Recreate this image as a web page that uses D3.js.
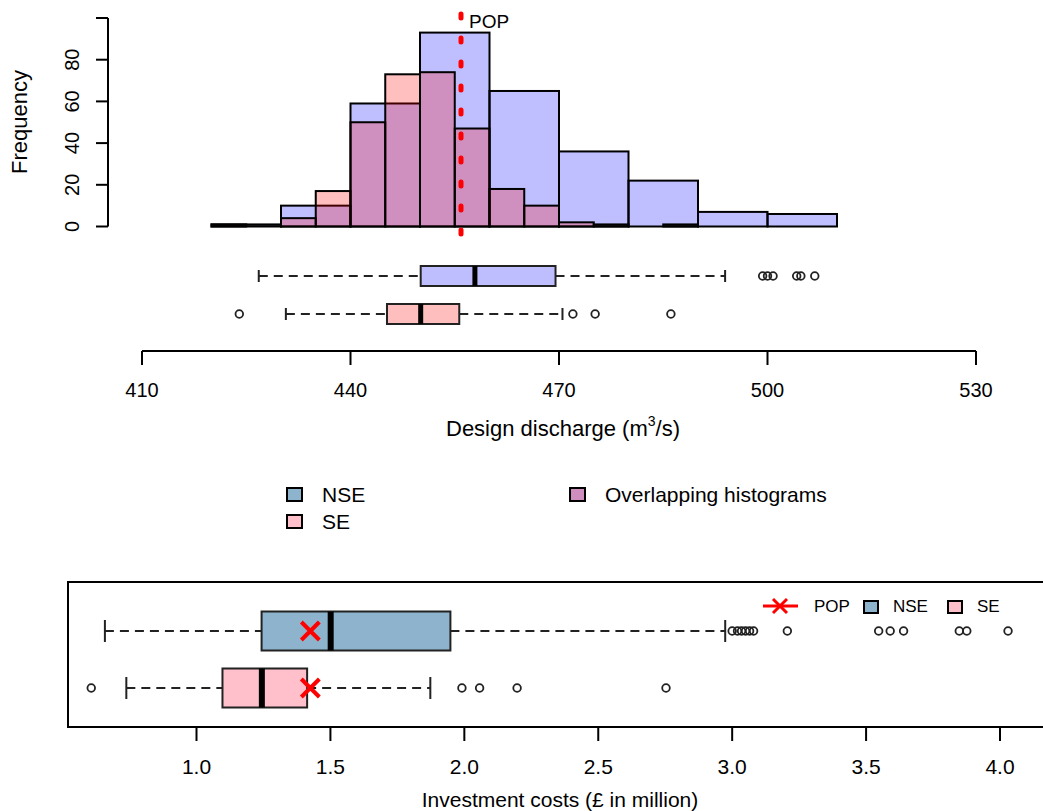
<!DOCTYPE html>
<html>
<head>
<meta charset="utf-8">
<script src="https://cdn.jsdelivr.net/npm/d3@7"></script>
<style>
body { margin: 0; background: #fff; }
text { font-family: "Liberation Sans", Arial, sans-serif; fill: #000; }
</style>
</head>
<body>
<div id="chart"></div>
<script>
// histogram data (design discharge, m3/s)
var nseBreaks = [420, 430, 440, 450, 460, 470, 480, 490, 500, 510];
var nseCounts = [1, 10, 59, 93, 65, 36, 22, 7, 6];
var seBreaks = [420, 425, 430, 435, 440, 445, 450, 455, 460, 465, 470, 475, 480, 485, 490];
var seCounts = [1, 0, 4, 17, 50, 73, 74, 47, 18, 10, 2, 1, 0, 1];
var popDischarge = 455.9;

// boxplot stats: [lower whisker, q1, median, q3, upper whisker]
var nseDischargeStats = [426.8, 450.1, 457.9, 469.5, 493.9];
var nseDischargeOut = [499.3, 500.0, 500.8, 504.2, 504.8, 506.8];
var seDischargeStats = [430.7, 445.25, 450.1, 455.65, 470.5];
var seDischargeOut = [424.0, 472.0, 475.2, 486.1];

var nseCostStats = [0.658, 1.243, 1.501, 1.948, 2.974];
var nseCostOut = [3.0, 3.02, 3.035, 3.05, 3.065, 3.08, 3.206, 3.547, 3.59, 3.64, 3.848, 3.876, 4.03];
var seCostStats = [0.738, 1.097, 1.244, 1.413, 1.873];
var seCostOut = [0.607, 1.991, 2.057, 2.197, 2.753];
var popCost = [1.425, 1.425];

var dischargeTicks = [410, 440, 470, 500, 530];
var freqTicks = [0, 20, 40, 60, 80, 100];
var freqLabels = ["0", "20", "40", "60", "80", ""];
var costTicks = [1.0, 1.5, 2.0, 2.5, 3.0, 3.5, 4.0];

var width = 1043, height = 811;
var svg = d3.select("#chart").append("svg")
    .attr("width", width)
    .attr("height", height);

var x = d3.scaleLinear().domain([410, 530]).range([142, 976]);
var y = d3.scaleLinear().domain([0, 100]).range([226.5, 18]);
var xc = d3.scaleLinear().domain([1.0, 4.0]).range([196.5, 1000]);

// ---- histograms ----
function histBars(breaks, counts) {
    return counts.map(function (c, i) { return {x0: breaks[i], x1: breaks[i + 1], n: c}; });
}
var hist = svg.append("g").attr("class", "hist");
hist.selectAll("rect.nse")
    .data(histBars(nseBreaks, nseCounts)).enter()
    .append("rect").attr("class", "nse")
    .attr("x", function (d) { return x(d.x0); })
    .attr("width", function (d) { return x(d.x1) - x(d.x0); })
    .attr("y", function (d) { return y(d.n); })
    .attr("height", function (d) { return y(0) - y(d.n); })
    .attr("fill", "rgba(0,0,255,0.25)")
    .attr("stroke", "#000").attr("stroke-width", 2);
hist.selectAll("rect.se")
    .data(histBars(seBreaks, seCounts).filter(function (d) { return d.n > 0; })).enter()
    .append("rect").attr("class", "se")
    .attr("x", function (d) { return x(d.x0); })
    .attr("width", function (d) { return x(d.x1) - x(d.x0); })
    .attr("y", function (d) { return y(d.n); })
    .attr("height", function (d) { return y(0) - y(d.n); })
    .attr("fill", "rgba(255,0,0,0.25)")
    .attr("stroke", "#000").attr("stroke-width", 2);

// y axis
var yAxis = svg.append("g").attr("transform", "translate(108,0)");
yAxis.append("line").attr("x1", 0).attr("x2", 0)
    .attr("y1", y(0)).attr("y2", y(100))
    .attr("stroke", "#000").attr("stroke-width", 2);
yAxis.selectAll("line.tick").data(freqTicks).enter()
    .append("line").attr("class", "tick")
    .attr("x1", -12).attr("x2", 0)
    .attr("y1", function (d) { return y(d); }).attr("y2", function (d) { return y(d); })
    .attr("stroke", "#000").attr("stroke-width", 2);
yAxis.selectAll("text").data(freqTicks).enter()
    .append("text")
    .attr("transform", function (d) { return "translate(-29," + y(d) + ") rotate(-90)"; })
    .attr("text-anchor", "middle")
    .style("font-size", "20px")
    .text(function (d, i) { return freqLabels[i]; });
svg.append("text")
    .attr("transform", "translate(27,122) rotate(-90)")
    .attr("text-anchor", "middle")
    .style("font-size", "22px")
    .text("Frequency");

// POP line
svg.append("line")
    .attr("x1", x(popDischarge)).attr("x2", x(popDischarge))
    .attr("y1", 14).attr("y2", 238)
    .attr("stroke", "#f00").attr("stroke-width", 5)
    .attr("stroke-linecap", "round")
    .attr("stroke-dasharray", "4,20");
svg.append("text")
    .attr("x", x(popDischarge) + 8).attr("y", 28)
    .style("font-size", "19px")
    .text("POP");

// ---- box plots ----
function drawBox(g, sc, stats, outs, cy, half, staple, fill, medW) {
    var dash = "9,6";
    g.append("line").attr("x1", sc(stats[0])).attr("x2", sc(stats[1]))
        .attr("y1", cy).attr("y2", cy)
        .attr("stroke", "#222").attr("stroke-width", 2).attr("stroke-dasharray", dash);
    g.append("line").attr("x1", sc(stats[3])).attr("x2", sc(stats[4]))
        .attr("y1", cy).attr("y2", cy)
        .attr("stroke", "#222").attr("stroke-width", 2).attr("stroke-dasharray", dash);
    g.selectAll("line.staple").data([stats[0], stats[4]]).enter()
        .append("line").attr("class", "staple")
        .attr("x1", function (d) { return sc(d); }).attr("x2", function (d) { return sc(d); })
        .attr("y1", cy - staple).attr("y2", cy + staple)
        .attr("stroke", "#222").attr("stroke-width", 2);
    g.append("rect")
        .attr("x", sc(stats[1])).attr("width", sc(stats[3]) - sc(stats[1]))
        .attr("y", cy - half).attr("height", 2 * half)
        .attr("fill", fill).attr("stroke", "#222").attr("stroke-width", 2);
    g.append("line").attr("x1", sc(stats[2])).attr("x2", sc(stats[2]))
        .attr("y1", cy - half).attr("y2", cy + half)
        .attr("stroke", "#000").attr("stroke-width", medW);
    g.selectAll("circle").data(outs).enter()
        .append("circle")
        .attr("cx", function (d) { return sc(d); }).attr("cy", cy)
        .attr("r", 3.8)
        .attr("fill", "none").attr("stroke", "#222").attr("stroke-width", 1.8);
}

var topBoxes = svg.append("g");
drawBox(topBoxes.append("g"), x, nseDischargeStats, nseDischargeOut, 276, 10, 6, "#bebeff", 5);
drawBox(topBoxes.append("g"), x, seDischargeStats, seDischargeOut, 314, 10, 6, "#ffbebe", 5);

// discharge axis
var xAxis = svg.append("g").attr("transform", "translate(0,351)");
xAxis.append("line").attr("x1", x(410)).attr("x2", x(530))
    .attr("stroke", "#000").attr("stroke-width", 2);
xAxis.selectAll("line.tick").data(dischargeTicks).enter()
    .append("line").attr("class", "tick")
    .attr("x1", function (d) { return x(d); }).attr("x2", function (d) { return x(d); })
    .attr("y1", 0).attr("y2", 14)
    .attr("stroke", "#000").attr("stroke-width", 2);
xAxis.selectAll("text").data(dischargeTicks).enter()
    .append("text")
    .attr("x", function (d) { return x(d); }).attr("y", 46)
    .attr("text-anchor", "middle")
    .style("font-size", "20px")
    .text(function (d) { return d; });
var xt = svg.append("text")
    .attr("x", 563).attr("y", 436)
    .attr("text-anchor", "middle")
    .style("font-size", "22px");
xt.append("tspan").text("Design discharge (m");
xt.append("tspan").attr("dy", -10).style("font-size", "14px").text("3");
xt.append("tspan").attr("dy", 10).text("/s)");

// ---- legend (middle) ----
var legItems = [
    {label: "NSE", fill: "#8db4cc", x: 287, y: 488},
    {label: "SE", fill: "#ffc0cb", x: 287, y: 515},
    {label: "Overlapping histograms", fill: "#ce8fbf", x: 570, y: 488}
];
var leg = svg.append("g").selectAll("g").data(legItems).enter().append("g");
leg.append("rect")
    .attr("x", function (d) { return d.x; }).attr("y", function (d) { return d.y; })
    .attr("width", 15).attr("height", 13)
    .attr("fill", function (d) { return d.fill; })
    .attr("stroke", "#000").attr("stroke-width", 2);
leg.append("text")
    .attr("x", function (d) { return d.x + 35; }).attr("y", function (d) { return d.y + 14; })
    .style("font-size", "21px")
    .text(function (d) { return d.label; });

// ---- investment costs panel ----
svg.append("rect")
    .attr("x", 68).attr("y", 582).attr("width", 1000).attr("height", 145)
    .attr("fill", "none").attr("stroke", "#000").attr("stroke-width", 2);

var botBoxes = svg.append("g");
drawBox(botBoxes.append("g"), xc, nseCostStats, nseCostOut, 631, 19.5, 11, "#8db4cc", 6);
drawBox(botBoxes.append("g"), xc, seCostStats, seCostOut, 688, 19.5, 11, "#ffc0cb", 6);

// POP crosses
function cross(g, cx, cy, s, w) {
    g.append("path")
        .attr("d", "M" + (cx - s) + "," + (cy - s) + "L" + (cx + s) + "," + (cy + s) +
            "M" + (cx - s) + "," + (cy + s) + "L" + (cx + s) + "," + (cy - s))
        .attr("stroke", "#f00").attr("stroke-width", w).attr("fill", "none");
}
var rowsY = [631, 688];
popCost.forEach(function (v, i) { cross(svg, xc(v), rowsY[i], 9, 4); });

// cost axis
var cAxis = svg.append("g").attr("transform", "translate(0,727)");
cAxis.selectAll("line").data(costTicks).enter()
    .append("line")
    .attr("x1", function (d) { return xc(d); }).attr("x2", function (d) { return xc(d); })
    .attr("y1", 0).attr("y2", 14)
    .attr("stroke", "#000").attr("stroke-width", 2);
cAxis.selectAll("text").data(costTicks).enter()
    .append("text")
    .attr("x", function (d) { return xc(d); }).attr("y", 47)
    .attr("text-anchor", "middle")
    .style("font-size", "21px")
    .text(function (d) { return d3.format(".1f")(d); });
svg.append("text")
    .attr("x", 560).attr("y", 807)
    .attr("text-anchor", "middle")
    .style("font-size", "21px")
    .text("Investment costs (\u00a3 in million)");

// legend inside cost panel
var cl = svg.append("g");
cl.append("line").attr("x1", 763).attr("x2", 798).attr("y1", 606).attr("y2", 606)
    .attr("stroke", "#f00").attr("stroke-width", 3);
cross(cl, 780, 606, 7, 3);
cl.append("text").attr("x", 814).attr("y", 612).style("font-size", "17px").text("POP");
cl.append("rect").attr("x", 864).attr("y", 601).attr("width", 14).attr("height", 12)
    .attr("fill", "#8db4cc").attr("stroke", "#000").attr("stroke-width", 2);
cl.append("text").attr("x", 893).attr("y", 612).style("font-size", "17px").text("NSE");
cl.append("rect").attr("x", 948).attr("y", 601).attr("width", 14).attr("height", 12)
    .attr("fill", "#ffc0cb").attr("stroke", "#000").attr("stroke-width", 2);
cl.append("text").attr("x", 977).attr("y", 612).style("font-size", "17px").text("SE");
</script>
</body>
</html>
